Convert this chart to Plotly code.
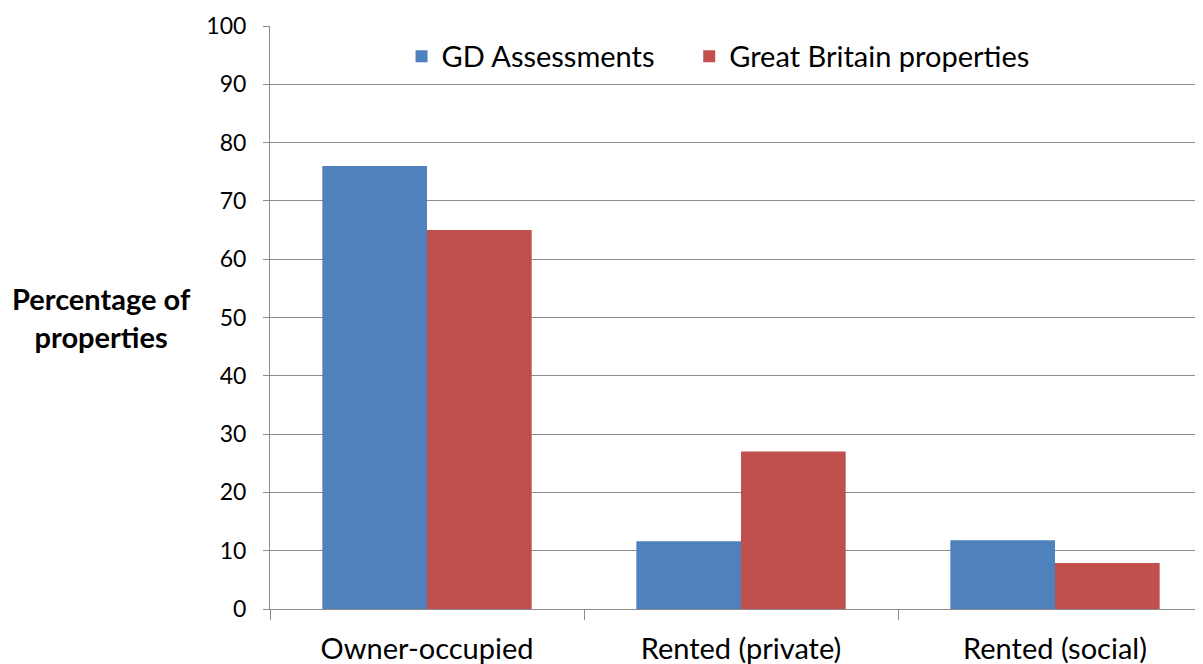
import plotly.graph_objects as go

categories = ["Owner-occupied", "Rented (private)", "Rented (social)"]
series_names = ["GD Assessments", "Great Britain properties"]
gd_assessments = [76, 11.6, 11.8]
gb_properties = [65, 27, 7.9]
y_ticks = list(range(0, 101, 10))

BLUE = "#4F81BD"
RED = "#C0504D"
GRID = "#8C8C8C"
FONT = "Lato"
PAD = "\u00A0" * 4

fig = go.Figure()
fig.add_trace(go.Bar(name=series_names[0] + PAD, x=[0, 1, 2], y=gd_assessments,
                     marker=dict(color=BLUE, line=dict(width=0))))
fig.add_trace(go.Bar(name=series_names[1], x=[0, 1, 2], y=gb_properties,
                     marker=dict(color=RED, line=dict(width=0))))

xr = [-0.5, 2.5 - 9 / 314]
fig.update_layout(
    width=1195, height=656,
    margin=dict(l=262, r=0, t=18, b=55),
    paper_bgcolor="white", plot_bgcolor="white",
    barmode="group", bargap=1/3, bargroupgap=0,
    font=dict(family=FONT, size=29, color="#000000"),
    showlegend=True,
    legend=dict(orientation="h", x=0.141, y=0.948, xanchor="left", yanchor="middle",
                font=dict(size=29), itemwidth=30, bgcolor="rgba(0,0,0,0)"),
    xaxis=dict(range=xr, tickmode="array", tickvals=[0, 1, 2], ticktext=categories,
               ticks="", showgrid=False, zeroline=False, showline=True, linecolor=GRID,
               linewidth=1, tickfont=dict(size=29), ticklabelstandoff=14),
    xaxis2=dict(range=xr, overlaying="x", anchor="y", side="bottom", tickmode="array",
                tickvals=[-0.5, 0.5, 1.5, 2.5], ticks="outside", ticklen=10, tickcolor=GRID,
                showticklabels=False, showgrid=False, zeroline=False, showline=False),
    yaxis=dict(range=[0, 100], tickmode="array", tickvals=y_ticks, ticks="outside",
               ticklen=6, tickcolor=GRID, showgrid=True, gridcolor=GRID, gridwidth=1,
               zeroline=False, showline=True, linecolor=GRID, linewidth=1,
               tickfont=dict(size=23), ticklabelstandoff=12),
)
# invisible trace to make xaxis2 render
fig.add_trace(go.Scatter(x=[0], y=[0], xaxis="x2", mode="markers",
                         marker=dict(opacity=0), showlegend=False, hoverinfo="skip"))

fig.add_annotation(text="<b>Percentage of<br>properties</b>", xref="paper", yref="paper",
                   x=-0.181, y=0.5, xanchor="center", yanchor="middle", showarrow=False,
                   font=dict(size=29, family=FONT), align="center")

fig.write_html("out.html")
